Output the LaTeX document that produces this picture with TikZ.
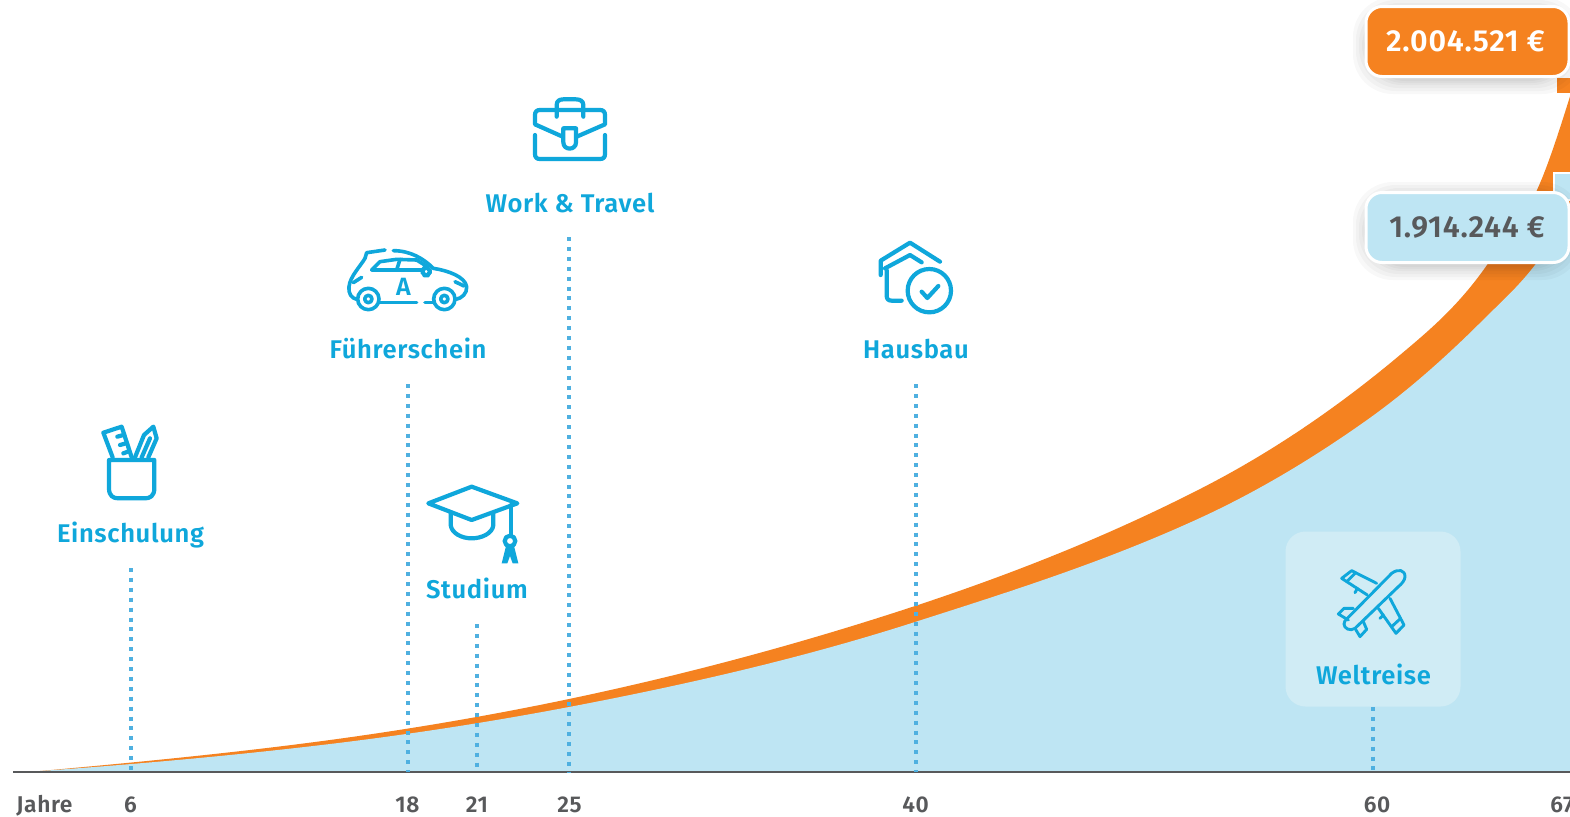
\documentclass[tikz,border=0pt]{standalone}
\usepackage{fontspec}
\setmainfont{Fira Sans}[LetterSpace=2.5,BoldFont={Fira Sans SemiBold}]
\definecolor{orangeC}{HTML}{F58220}
\definecolor{skyC}{HTML}{BEE5F3}
\definecolor{paleC}{HTML}{D0ECF5}
\definecolor{iconC}{HTML}{0FA7DB}
\definecolor{dotC}{HTML}{4FB0E0}
\definecolor{inkC}{HTML}{58595B}
\tikzset{
  lab/.style={font=\fontsize{12.8}{13}\selectfont\bfseries,text=iconC,inner sep=0pt,anchor=base},
  tick/.style={font=\fontsize{11.4}{11}\selectfont\bfseries,text=inkC,inner sep=0pt,anchor=base},
  amount/.style={font=\fontsize{15.2}{15}\selectfont\bfseries,inner sep=0pt,anchor=base},
  dots/.style={draw=dotC,line width=2pt,dash pattern=on 2pt off 2.95pt},
  ico/.style={draw=iconC,line width=2.1pt,line cap=round,line join=round},
  car ico/.style={draw=iconC,line width=1.8pt,line cap=round,line join=round},
  thin ico/.style={draw=iconC,line width=1.45pt,line cap=round,line join=round},
  zoomed/.style={shift={#1},scale=1/3}
}
\newcommand{\softshadow}[4]{%
  \foreach \g in {14,11,8,5,3,1}{
    \fill[black,opacity=.028,rounded corners=20] (#1-\g,#2-\g+4) rectangle (#3+\g,#4+\g+4);
  }}
\begin{document}
\begin{tikzpicture}[x=0.5pt,y=-0.5pt]
\useasboundingbox (0,0) rectangle (1570,816);
\clip (0,0) rectangle (1570,816);
\fill[white] (0,0) rectangle (1570,816);

% area and band
\fill[orangeC] (40,771) .. controls (136.7,762.3) and (233.3,753) .. (330,740)
  .. controls (409.7,729.2) and (489.3,715.7) .. (569,699)
  .. controls (684.3,674.8) and (799.7,644) .. (915,606)
  .. controls (1010,574.6) and (1105,537.5) .. (1200,489)
  .. controls (1266.7,455) and (1333.3,411) .. (1400,355)
  .. controls (1429,330.6) and (1458,306.5) .. (1487,265)
  .. controls (1503.7,241) and (1520.3,226.7) .. (1537,190)
  .. controls (1548.7,164.3) and (1560.3,127.4) .. (1572,90)
  -- (1572,771) -- cycle;
\fill[skyC] (40,771) .. controls (136.7,764.2) and (233.3,755.6) .. (330,744)
  .. controls (409.7,734.4) and (489.3,722.1) .. (569,707)
  .. controls (684.3,685) and (799.7,659) .. (915,622)
  .. controls (1010,591.6) and (1105,561.7) .. (1200,518)
  .. controls (1255.7,492.4) and (1311.3,459.5) .. (1367,420)
  .. controls (1405.7,392.5) and (1444.3,358.7) .. (1483,320)
  .. controls (1500.3,302.7) and (1517.7,287.5) .. (1535,265)
  .. controls (1547.3,249) and (1559.7,224.6) .. (1572,200)
  -- (1572,772) -- cycle;

% axis
\coordinate (ax0) at (13,772);
\coordinate (ax1) at (1570,772);
\draw[inkC,line width=1pt] (ax0) -- (ax1);

% stubs
\fill[orangeC] (1557,78) rectangle (1572,93);
\fill[skyC,draw=white,line width=1pt] (1554,173) rectangle (1575,200);

% Weltreise panel
\node[fill=paleC,rounded corners=10pt,minimum width=87.5pt,minimum height=87.5pt,inner sep=0pt] (panel) at (1373,619) {};

% dotted markers
\foreach \n/\x/\t in {einsch/130.5/568, fuehr/407.5/384, stud/476.7/624, work/569.3/237, haus/915.5/384, welt/1372.5/707}{
  \coordinate (\n top) at (\x,\t);
  \coordinate (\n base) at (\x,772);
  \draw[dots] (\n top) -- (\n base);
}

% labels
\node[lab] (lEinsch) at (130.5,542) {Einschulung};
\node[lab] (lFuehr) at (408,358) {Führerschein};
\node[lab] (lStud) at (477,598) {Studium};
\node[lab] (lWork) at (570,212) {Work \& Travel};
\node[lab] (lHaus) at (916,358) {Hausbau};
\node[lab] (lWelt) at (1373.5,684) {Weltreise};

% ticks
\node[tick] (tJ) at (44.5,812) {Jahre};
\node[tick] (t6) at (130.5,812) {6};
\node[tick] (t18) at (407.5,812) {18};
\node[tick] (t21) at (477,812) {21};
\node[tick] (t25) at (569.5,812) {25};
\node[tick] (t40) at (915.5,812) {40};
\node[tick] (t60) at (1377,812) {60};
\node[tick,anchor=base west] (t67) at (1550,812) {67};

% amount boxes
\softshadow{1367}{7}{1568}{76}
\node[fill=orangeC,draw=white,line width=1.5pt,rounded corners=8pt,minimum width=101.5pt,minimum height=35pt,inner sep=0pt] (boxA) at (1467.5,41.5) {};
\node[amount,text=white] (valA) at (1465.5,51) {2.004.521 €};
\softshadow{1367}{192}{1568}{262}
\node[fill=skyC,draw=white,line width=1.5pt,rounded corners=8pt,minimum width=101.5pt,minimum height=35pt,inner sep=0pt] (boxB) at (1467.5,227.5) {};
\node[amount,text=inkC] (valB) at (1467,237) {1.914.244 €};

% icon: pencils cup
\begin{scope}[zoomed={(40,410)}]
\draw[ico] (207,150) -- (343,150) -- (343,235) .. controls (343,258) and (330,265) .. (315,265) -- (235,265) .. controls (220,265) and (207,258) .. (207,235) -- cycle;
\draw[ico] (218,142) -- (190,68) -- (245,50) -- (275,142);
\draw[ico] (232,80) -- (250,75) (240,105) -- (258,100) (250,130) -- (266,124);
\draw[ico] (285,142) -- (312,75) -- (340,50) -- (350,85) -- (325,142);
\draw[ico] (305,142) -- (330,85);
\end{scope}

% icon: car
\begin{scope}[zoomed={(320,230)}]
\draw[car ico] (195,60) -- (140,68) -- (135,85) .. controls (120,110) and (90,140) .. (87,170) .. controls (84,190) and (95,205) .. (110,208);
\draw[car ico] (220,62) .. controls (270,62) and (310,85) .. (340,115) .. controls (385,122) and (435,140) .. (440,170) .. controls (442,190) and (425,205) .. (408,208);
\draw[car ico] (145,207) circle (32);
\draw[car ico] (145,207) circle (11);
\draw[car ico] (373,207) circle (32);
\draw[car ico] (373,207) circle (11);
\draw[car ico] (180,218) -- (290,218) (315,218) -- (340,218);
\draw[car ico] (155,120) -- (180,95) -- (230,88) -- (290,90) -- (322,110) -- (305,120) -- cycle;
\draw[car ico] (240,88) -- (230,120);
\draw[car ico,rounded corners=3] (307,112) rectangle (330,137);
\draw[car ico] (100,158) -- (125,142) (405,155) -- (432,168);
\node[font=\fontsize{12.5}{12}\selectfont\bfseries,text=iconC,inner sep=0pt] (carA) at (250,170) {A};
\end{scope}

% icon: mortarboard
\begin{scope}[zoomed={(410,470)}]
\draw[ico] (55,100) -- (185,50) -- (322,100) -- (185,150) -- cycle;
\draw[ico] (122,130) -- (122,165) .. controls (125,190) and (155,205) .. (185,205) .. controls (215,205) and (248,190) .. (250,165) -- (250,130);
\draw[ico] (303,105) -- (303,195);
\draw[ico] (300,213) circle (16);
\fill[iconC] (288,228) -- (275,280) -- (292,280) -- (300,258) -- (308,280) -- (325,280) -- (312,228) -- cycle;
\end{scope}

% icon: briefcase
\begin{scope}[zoomed={(480,85)}]
\draw[ico] (248,155) -- (165,118) -- (165,90) .. controls (165,80) and (170,75) .. (180,75) -- (360,75) .. controls (370,75) and (375,80) .. (375,90) -- (375,118) -- (290,155);
\draw[ico] (165,150) -- (165,207) .. controls (165,217) and (170,222) .. (180,222) -- (360,222) .. controls (370,222) and (375,217) .. (375,207) -- (375,150);
\draw[ico] (250,130) -- (288,130) -- (288,172) .. controls (288,197) and (250,197) .. (250,172) -- cycle;
\draw[ico] (230,95) -- (230,60) .. controls (230,48) and (238,43) .. (250,43) -- (288,43) .. controls (300,43) and (310,48) .. (310,60) -- (310,95);
\end{scope}

% icon: house
\begin{scope}[zoomed={(850,230)}]
\draw[ico] (270,95) -- (180,38) -- (92,92) -- (92,135);
\draw[ico] (105,115) -- (180,75) -- (215,97);
\draw[ico] (110,120) -- (110,197) .. controls (110,207) and (115,212) .. (125,212) -- (155,212);
\draw[ico] (238,182) circle (65);
\draw[ico] (215,185) -- (232,204) -- (265,168);
\end{scope}

% icon: plane
\begin{scope}[zoomed={(1270,520)}]
\draw[thin ico] (232,295) -- (365,160) .. controls (385,145) and (405,150) .. (405,170) .. controls (405,180) and (395,192) .. (385,200) -- (255,325) .. controls (240,335) and (222,325) .. (222,312) .. controls (222,305) and (226,300) .. (232,295) -- cycle;
\draw[thin ico] (320,190) -- (245,152) -- (215,175) -- (292,225);
\draw[thin ico] (255,160) -- (230,185) (262,205) -- (255,218);
\draw[thin ico] (360,235) -- (402,315) -- (378,340) -- (325,265);
\draw[thin ico] (392,295) -- (365,320) (340,285) -- (330,295);
\draw[thin ico] (250,265) -- (222,265) -- (205,282) -- (235,300);
\draw[thin ico] (255,325) -- (270,350) -- (290,328) -- (280,305);
\end{scope}
\end{tikzpicture}
\end{document}
